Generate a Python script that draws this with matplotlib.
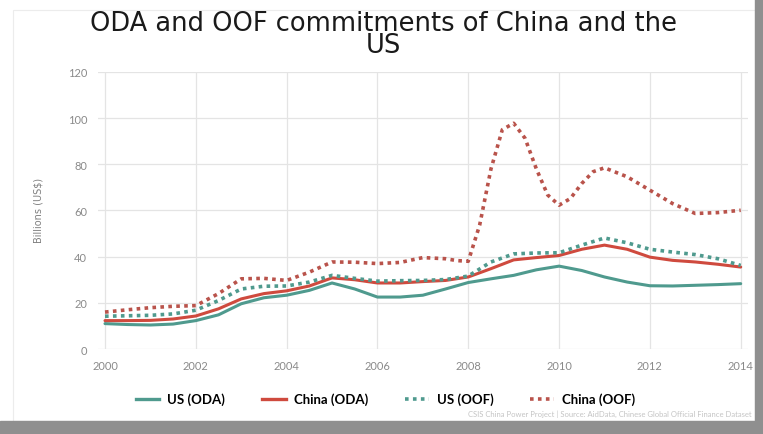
import matplotlib
matplotlib.use("Agg")

import matplotlib.pyplot as plt
from matplotlib.lines import Line2D
from matplotlib.patches import Rectangle

# half-year sampling
years = [2000, 2000.5, 2001, 2001.5, 2002, 2002.5, 2003, 2003.5, 2004, 2004.5,
         2005, 2005.5, 2006, 2006.5, 2007, 2007.5, 2008, 2008.5, 2009, 2009.5,
         2010, 2010.5, 2011, 2011.5, 2012, 2012.5, 2013, 2013.5, 2014]

us_oda = [11.0, 10.6, 10.4, 10.8, 12.3, 14.8, 19.6, 22.2, 23.3, 25.4,
          28.6, 26.0, 22.5, 22.5, 23.3, 26.0, 28.8, 30.4, 31.9, 34.3,
          35.9, 34.0, 31.2, 29.0, 27.4, 27.3, 27.6, 27.9, 28.3]

china_oda = [12.3, 12.3, 12.4, 13.0, 14.3, 17.4, 21.7, 24.0, 25.2, 27.3,
             30.8, 30.0, 28.6, 28.6, 29.2, 29.7, 31.2, 34.8, 38.6, 39.6,
             40.5, 43.2, 45.0, 43.2, 39.8, 38.4, 37.7, 36.7, 35.5]

us_oof = [14.2, 14.4, 14.6, 15.2, 16.8, 21.0, 26.0, 27.2, 27.3, 29.0,
          31.9, 30.6, 29.4, 29.6, 29.7, 30.1, 31.6, 37.7, 41.2, 41.6,
          41.7, 45.0, 48.1, 46.0, 43.2, 42.0, 40.9, 39.1, 36.2]

# China OOF read at quarter years around the 2009 spike
china_oof_years = [2000, 2000.5, 2001, 2001.5, 2002, 2002.5, 2003, 2003.5, 2004, 2004.5,
                   2005, 2005.5, 2006, 2006.5, 2007, 2007.5, 2007.75, 2008, 2008.25, 2008.5,
                   2008.75, 2009, 2009.25, 2009.5, 2009.75, 2010, 2010.25, 2010.5, 2010.75, 2011,
                   2011.5, 2012, 2012.5, 2013, 2013.5, 2014]
china_oof = [16.0, 17.0, 17.9, 18.5, 18.8, 24.0, 30.4, 30.6, 29.7, 33.3,
             37.7, 37.6, 37.0, 37.5, 39.6, 39.1, 38.3, 38.0, 53.6, 78.0,
             95.0, 97.8, 91.3, 78.0, 66.7, 62.3, 65.2, 71.7, 76.8, 78.5,
             74.6, 68.8, 63.0, 58.7, 59.1, 60.1]

x_ticks = [2000, 2002, 2004, 2006, 2008, 2010, 2012, 2014]
y_ticks = [0, 20, 40, 60, 80, 100, 120]

TEAL = "#4f9a8e"
RED = "#cf4a3e"
DOT_RED = "#b9534b"
GRID = "#e4e4e4"
TICK = "#8a8a8a"

plt.rcParams["font.family"] = ["Lato", "DejaVu Sans"]

fig = plt.figure(figsize=(7.63, 4.35), dpi=100)
ax = fig.add_axes([0.1287, 0.1954, 0.851, 0.6368])

dots = (0, (1, 1.2))
ax.plot(years, us_oda, color=TEAL, lw=2.2, solid_capstyle="round")
ax.plot(years, china_oda, color=RED, lw=2.2, solid_capstyle="round")
ax.plot(years, us_oof, color=TEAL, lw=2.6, linestyle=dots)
ax.plot(china_oof_years, china_oof, color=DOT_RED, lw=2.6, linestyle=dots)

ax.set_xlim(1999.85, 2014.15)
ax.set_ylim(0, 120)
ax.set_xticks(x_ticks)
ax.set_yticks(y_ticks)
ax.set_xticklabels([str(t) for t in x_ticks])
ax.tick_params(axis="both", length=0, colors=TICK, labelsize=8)
ax.tick_params(axis="x", pad=8)
ax.tick_params(axis="y", pad=8)
ax.grid(True, color=GRID, lw=0.9)
ax.set_axisbelow(True)
for s in ax.spines.values():
    s.set_visible(False)

fig.text(0.05, 1 - 210 / 435, "Billions (US$)", rotation=90, ha="center", va="center",
         fontsize=7, color="#808080", family=["Liberation Sans Narrow", "DejaVu Sans"])

# title wraps onto two tightly packed lines in the original
fig.text(0.503, 1 - 11 / 435, "ODA and OOF commitments of China and the\nUS",
         ha="center", va="top", multialignment="center", linespacing=0.78,
         fontsize=18.5, color="#1a1a1a", family=["DejaVu Sans"])

handles = [
    Line2D([], [], color=TEAL, lw=2.4),
    Line2D([], [], color=RED, lw=2.4),
    Line2D([], [], color=TEAL, lw=2.6, linestyle=dots),
    Line2D([], [], color=DOT_RED, lw=2.6, linestyle=dots),
]
labels = ["US (ODA)", "China (ODA)", "US (OOF)", "China (OOF)"]
fig.legend(handles, labels, loc="center", bbox_to_anchor=(0.505, 1 - 400 / 435),
           ncol=4, frameon=False, handlelength=1.8, handletextpad=0.6,
           columnspacing=2.8, prop={"weight": "bold", "size": 9.5})

fig.text(0.985, 1 - 414 / 435,
         "CSIS China Power Project | Source: AidData, Chinese Global Official Finance Dataset",
         ha="right", va="center", fontsize=5.5, color="#c4c4c4")

# faint card outline plus grey screenshot frame on the right and bottom
fig.patches.append(Rectangle((13 / 763, 13 / 435), 742 / 763, 411 / 435,
                             transform=fig.transFigure, facecolor="none",
                             edgecolor="#ececec", lw=0.8, zorder=-2))
fig.patches.append(Rectangle((755 / 763, 0), 8 / 763, 1, transform=fig.transFigure,
                             color="#8f8f8f", zorder=-1))
fig.patches.append(Rectangle((0, 0), 1, 13 / 435, transform=fig.transFigure,
                             color="#8f8f8f", zorder=-1))

fig.savefig("out.png", dpi=100)
